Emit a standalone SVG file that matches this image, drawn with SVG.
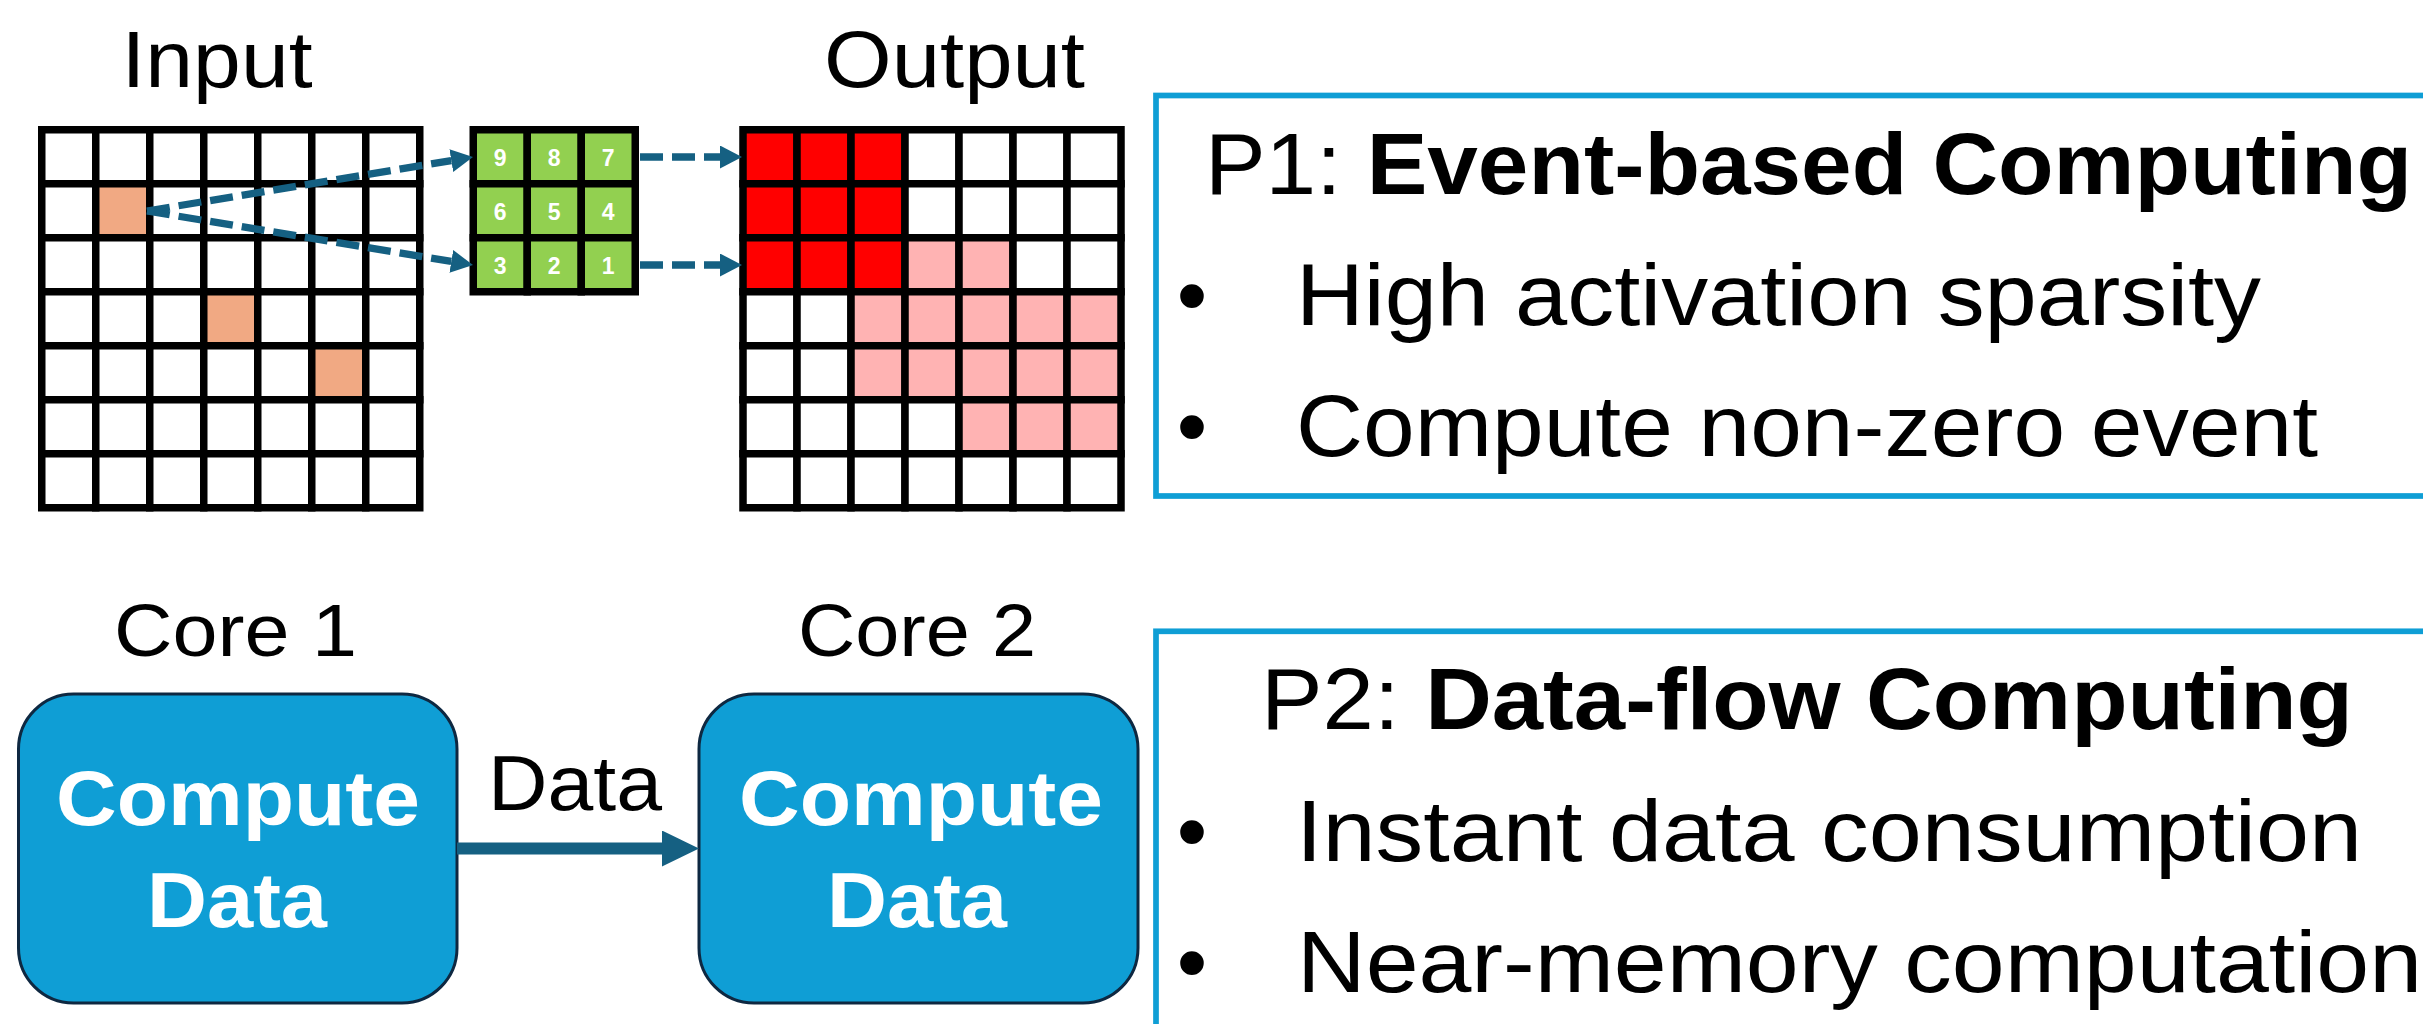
<svg xmlns="http://www.w3.org/2000/svg" width="2423" height="1024" viewBox="0 0 2423 1024">
<style>
text{font-family:"Liberation Sans",Arial,sans-serif;fill:#000}
.c{stroke:#000;stroke-width:7.5}
.w{fill:#fff}
.o{fill:#F1A983}
.g{fill:#92D050}
.r{fill:#FF0000}
.p{fill:#FFB3B3}
.num{font-weight:bold;font-size:23px;fill:#fff;text-anchor:middle}
.lbl{font-size:80px}
.core{font-size:75px}
.big{font-size:87px}
.bx{font-weight:bold;font-size:77px;fill:#fff}
.dash{fill:none;stroke:#156082;stroke-width:7.3;stroke-dasharray:23 9}
.pbox{fill:none;stroke:#0F9ED5;stroke-width:5.7}
.cbox{fill:#0F9ED5;stroke:#0E2841;stroke-width:3}
</style>
<defs>
<marker id="ah" markerUnits="userSpaceOnUse" viewBox="0 0 22 23" refX="0" refY="11.5" markerWidth="22" markerHeight="23" orient="auto">
<path d="M0,0 L22,11.5 L0,23 z" fill="#156082"/>
</marker>
<marker id="ahs" markerUnits="userSpaceOnUse" viewBox="0 0 37 36" refX="0" refY="18" markerWidth="37" markerHeight="36" orient="auto">
<path d="M0,0 L37,18 L0,36 z" fill="#156082"/>
</marker>
</defs>

<g id="input-title"><text class="lbl" x="121.5" y="87" textLength="191" lengthAdjust="spacingAndGlyphs">Input</text></g>
<g id="output-title"><text class="lbl" x="824" y="87" textLength="261" lengthAdjust="spacingAndGlyphs">Output</text></g>

<g id="input-grid">
<rect class="c w" x="41.75" y="129.75" width="54" height="54"/><rect class="c w" x="95.75" y="129.75" width="54" height="54"/><rect class="c w" x="149.75" y="129.75" width="54" height="54"/><rect class="c w" x="203.75" y="129.75" width="54" height="54"/><rect class="c w" x="257.75" y="129.75" width="54" height="54"/><rect class="c w" x="311.75" y="129.75" width="54" height="54"/><rect class="c w" x="365.75" y="129.75" width="54" height="54"/>
<rect class="c w" x="41.75" y="183.75" width="54" height="54"/><rect class="c o" x="95.75" y="183.75" width="54" height="54"/><rect class="c w" x="149.75" y="183.75" width="54" height="54"/><rect class="c w" x="203.75" y="183.75" width="54" height="54"/><rect class="c w" x="257.75" y="183.75" width="54" height="54"/><rect class="c w" x="311.75" y="183.75" width="54" height="54"/><rect class="c w" x="365.75" y="183.75" width="54" height="54"/>
<rect class="c w" x="41.75" y="237.75" width="54" height="54"/><rect class="c w" x="95.75" y="237.75" width="54" height="54"/><rect class="c w" x="149.75" y="237.75" width="54" height="54"/><rect class="c w" x="203.75" y="237.75" width="54" height="54"/><rect class="c w" x="257.75" y="237.75" width="54" height="54"/><rect class="c w" x="311.75" y="237.75" width="54" height="54"/><rect class="c w" x="365.75" y="237.75" width="54" height="54"/>
<rect class="c w" x="41.75" y="291.75" width="54" height="54"/><rect class="c w" x="95.75" y="291.75" width="54" height="54"/><rect class="c w" x="149.75" y="291.75" width="54" height="54"/><rect class="c o" x="203.75" y="291.75" width="54" height="54"/><rect class="c w" x="257.75" y="291.75" width="54" height="54"/><rect class="c w" x="311.75" y="291.75" width="54" height="54"/><rect class="c w" x="365.75" y="291.75" width="54" height="54"/>
<rect class="c w" x="41.75" y="345.75" width="54" height="54"/><rect class="c w" x="95.75" y="345.75" width="54" height="54"/><rect class="c w" x="149.75" y="345.75" width="54" height="54"/><rect class="c w" x="203.75" y="345.75" width="54" height="54"/><rect class="c w" x="257.75" y="345.75" width="54" height="54"/><rect class="c o" x="311.75" y="345.75" width="54" height="54"/><rect class="c w" x="365.75" y="345.75" width="54" height="54"/>
<rect class="c w" x="41.75" y="399.75" width="54" height="54"/><rect class="c w" x="95.75" y="399.75" width="54" height="54"/><rect class="c w" x="149.75" y="399.75" width="54" height="54"/><rect class="c w" x="203.75" y="399.75" width="54" height="54"/><rect class="c w" x="257.75" y="399.75" width="54" height="54"/><rect class="c w" x="311.75" y="399.75" width="54" height="54"/><rect class="c w" x="365.75" y="399.75" width="54" height="54"/>
<rect class="c w" x="41.75" y="453.75" width="54" height="54"/><rect class="c w" x="95.75" y="453.75" width="54" height="54"/><rect class="c w" x="149.75" y="453.75" width="54" height="54"/><rect class="c w" x="203.75" y="453.75" width="54" height="54"/><rect class="c w" x="257.75" y="453.75" width="54" height="54"/><rect class="c w" x="311.75" y="453.75" width="54" height="54"/><rect class="c w" x="365.75" y="453.75" width="54" height="54"/>
</g>

<g id="kernel">
<rect class="c g" x="473.25" y="129.75" width="54" height="54"/><rect class="c g" x="527.25" y="129.75" width="54" height="54"/><rect class="c g" x="581.25" y="129.75" width="54" height="54"/>
<rect class="c g" x="473.25" y="183.75" width="54" height="54"/><rect class="c g" x="527.25" y="183.75" width="54" height="54"/><rect class="c g" x="581.25" y="183.75" width="54" height="54"/>
<rect class="c g" x="473.25" y="237.75" width="54" height="54"/><rect class="c g" x="527.25" y="237.75" width="54" height="54"/><rect class="c g" x="581.25" y="237.75" width="54" height="54"/>
<text class="num" x="500.25" y="166">9</text><text class="num" x="554.25" y="166">8</text><text class="num" x="608.25" y="166">7</text>
<text class="num" x="500.25" y="220">6</text><text class="num" x="554.25" y="220">5</text><text class="num" x="608.25" y="220">4</text>
<text class="num" x="500.25" y="274">3</text><text class="num" x="554.25" y="274">2</text><text class="num" x="608.25" y="274">1</text>
</g>

<g id="output-grid">
<rect class="c r" x="743" y="129.75" width="54" height="54"/><rect class="c r" x="797" y="129.75" width="54" height="54"/><rect class="c r" x="851" y="129.75" width="54" height="54"/><rect class="c w" x="905" y="129.75" width="54" height="54"/><rect class="c w" x="959" y="129.75" width="54" height="54"/><rect class="c w" x="1013" y="129.75" width="54" height="54"/><rect class="c w" x="1067" y="129.75" width="54" height="54"/>
<rect class="c r" x="743" y="183.75" width="54" height="54"/><rect class="c r" x="797" y="183.75" width="54" height="54"/><rect class="c r" x="851" y="183.75" width="54" height="54"/><rect class="c w" x="905" y="183.75" width="54" height="54"/><rect class="c w" x="959" y="183.75" width="54" height="54"/><rect class="c w" x="1013" y="183.75" width="54" height="54"/><rect class="c w" x="1067" y="183.75" width="54" height="54"/>
<rect class="c r" x="743" y="237.75" width="54" height="54"/><rect class="c r" x="797" y="237.75" width="54" height="54"/><rect class="c r" x="851" y="237.75" width="54" height="54"/><rect class="c p" x="905" y="237.75" width="54" height="54"/><rect class="c p" x="959" y="237.75" width="54" height="54"/><rect class="c w" x="1013" y="237.75" width="54" height="54"/><rect class="c w" x="1067" y="237.75" width="54" height="54"/>
<rect class="c w" x="743" y="291.75" width="54" height="54"/><rect class="c w" x="797" y="291.75" width="54" height="54"/><rect class="c p" x="851" y="291.75" width="54" height="54"/><rect class="c p" x="905" y="291.75" width="54" height="54"/><rect class="c p" x="959" y="291.75" width="54" height="54"/><rect class="c p" x="1013" y="291.75" width="54" height="54"/><rect class="c p" x="1067" y="291.75" width="54" height="54"/>
<rect class="c w" x="743" y="345.75" width="54" height="54"/><rect class="c w" x="797" y="345.75" width="54" height="54"/><rect class="c p" x="851" y="345.75" width="54" height="54"/><rect class="c p" x="905" y="345.75" width="54" height="54"/><rect class="c p" x="959" y="345.75" width="54" height="54"/><rect class="c p" x="1013" y="345.75" width="54" height="54"/><rect class="c p" x="1067" y="345.75" width="54" height="54"/>
<rect class="c w" x="743" y="399.75" width="54" height="54"/><rect class="c w" x="797" y="399.75" width="54" height="54"/><rect class="c w" x="851" y="399.75" width="54" height="54"/><rect class="c w" x="905" y="399.75" width="54" height="54"/><rect class="c p" x="959" y="399.75" width="54" height="54"/><rect class="c p" x="1013" y="399.75" width="54" height="54"/><rect class="c p" x="1067" y="399.75" width="54" height="54"/>
<rect class="c w" x="743" y="453.75" width="54" height="54"/><rect class="c w" x="797" y="453.75" width="54" height="54"/><rect class="c w" x="851" y="453.75" width="54" height="54"/><rect class="c w" x="905" y="453.75" width="54" height="54"/><rect class="c w" x="959" y="453.75" width="54" height="54"/><rect class="c w" x="1013" y="453.75" width="54" height="54"/><rect class="c w" x="1067" y="453.75" width="54" height="54"/>
</g>

<g id="p1-box">
<rect class="pbox" x="1156" y="95.5" width="1400" height="400.5"/>
<text class="big" x="1205" y="194" textLength="1207" lengthAdjust="spacingAndGlyphs">P1: <tspan font-weight="bold">Event-based Computing</tspan></text>
<text class="big" x="1192" y="325" text-anchor="middle">•</text>
<text class="big" x="1296" y="325" textLength="965" lengthAdjust="spacingAndGlyphs">High activation sparsity</text>
<text class="big" x="1192" y="456" text-anchor="middle">•</text>
<text class="big" x="1296" y="456" textLength="1022" lengthAdjust="spacingAndGlyphs">Compute non-zero event</text>
</g>

<g id="core1">
<text class="core" x="114" y="656" textLength="243" lengthAdjust="spacingAndGlyphs">Core 1</text>
<rect class="cbox" x="18.5" y="694" width="438.5" height="309" rx="55" ry="55"/>
<text class="bx" x="56" y="825" textLength="364" lengthAdjust="spacingAndGlyphs">Compute</text>
<text class="bx" x="147" y="927" textLength="180" lengthAdjust="spacingAndGlyphs">Data</text>
</g>

<g id="core2">
<text class="core" x="798" y="656" textLength="238" lengthAdjust="spacingAndGlyphs">Core 2</text>
<rect class="cbox" x="699" y="694" width="439" height="309" rx="55" ry="55"/>
<text class="bx" x="739" y="825" textLength="364" lengthAdjust="spacingAndGlyphs">Compute</text>
<text class="bx" x="827" y="927" textLength="180" lengthAdjust="spacingAndGlyphs">Data</text>
</g>

<g id="p2-box">
<rect class="pbox" x="1156" y="631.3" width="1400" height="500"/>
<text class="big" x="1261" y="729" textLength="1092" lengthAdjust="spacingAndGlyphs">P2: <tspan font-weight="bold">Data-flow Computing</tspan></text>
<text class="big" x="1192" y="861" text-anchor="middle">•</text>
<text class="big" x="1296" y="861" textLength="1066" lengthAdjust="spacingAndGlyphs">Instant data consumption</text>
<text class="big" x="1192" y="992" text-anchor="middle">•</text>
<text class="big" x="1297" y="992" textLength="1125" lengthAdjust="spacingAndGlyphs">Near-memory computation</text>
</g>

<g id="connectors">
<path class="dash" d="M147,211 L451.3,160.6" marker-end="url(#ah)"/>
<path class="dash" d="M147,211 L451.3,261.4" marker-end="url(#ah)"/>
<path class="dash" d="M640,157 L720,157" marker-end="url(#ah)"/>
<path class="dash" d="M640,265 L720,265" marker-end="url(#ah)"/>
<path d="M457,848.5 L662,848.5" fill="none" stroke="#156082" stroke-width="12" marker-end="url(#ahs)"/>
<text x="488" y="810" style="font-size:77px" textLength="174" lengthAdjust="spacingAndGlyphs">Data</text>
</g>
</svg>
